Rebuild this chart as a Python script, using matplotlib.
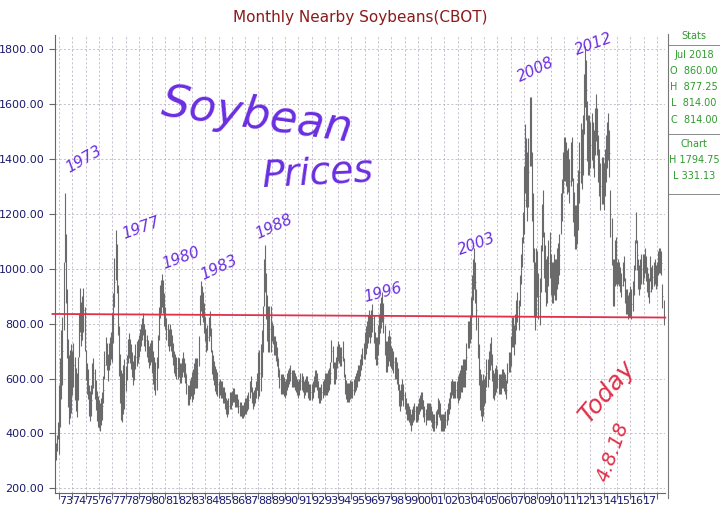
import matplotlib
matplotlib.use("Agg")
import matplotlib.pyplot as plt
import numpy as np

start_year = 1972
start_month = 7  # July 1972
prices = [
 340,345,350,335,365,410,
 450,550,650,700,900,1150,1000,800,620,560,580,600,
 620,650,600,560,540,600,760,850,800,820,850,780,
 650,600,580,520,500,520,600,620,580,540,500,480,
 470,460,480,500,560,650,700,680,640,680,700,720,
 750,820,950,1050,1000,850,700,600,540,530,560,580,
 600,640,700,720,700,680,650,620,640,680,690,700,
 720,740,760,780,800,760,740,720,700,680,690,700,
 680,640,620,600,620,700,800,880,900,920,900,850,
 820,780,760,740,760,740,720,690,660,650,640,640,
 640,620,620,640,660,640,620,580,540,540,560,570,
 570,580,600,620,620,620,700,850,900,880,860,820,
 780,740,750,780,800,740,660,640,620,600,590,580,
 560,570,560,560,540,540,520,500,490,500,520,520,
 530,540,540,520,520,520,500,490,490,480,480,490,
 500,500,510,520,560,580,540,520,530,540,560,590,
 610,620,640,690,780,950,1000,900,820,780,780,780,
 770,760,720,720,700,680,640,600,580,580,580,570,
 560,570,590,600,610,620,600,600,600,590,580,570,
 560,570,590,590,580,560,570,580,580,560,550,550,
 550,560,580,600,600,590,560,540,540,550,560,570,
 580,580,580,590,600,620,700,680,620,620,640,680,
 700,690,680,680,700,640,580,560,550,550,550,560,
 560,560,570,580,590,600,620,620,640,660,680,700,
 720,740,760,780,800,780,800,820,780,720,700,700,
 740,780,820,840,860,820,740,680,680,700,720,700,
 680,670,660,640,640,620,600,540,520,540,560,540,
 520,500,480,480,470,460,440,460,470,480,470,470,
 480,500,510,520,520,490,470,460,480,480,480,480,
 470,450,440,440,450,460,500,490,480,440,440,440,
 440,450,460,480,500,520,560,570,560,560,560,560,
 560,570,580,600,600,620,620,620,680,760,760,780,
 820,900,960,1000,950,850,750,650,560,540,520,540,
 550,560,620,620,650,680,700,640,580,570,590,600,
 600,580,580,580,600,600,590,580,560,620,660,660,
 700,770,770,740,780,830,860,830,920,1000,1060,1150,
 1250,1400,1350,1300,1350,1500,1500,1300,1150,950,900,950,
 980,900,880,1000,1150,1200,1050,1000,950,960,1020,1050,
 980,950,950,980,960,960,1000,1020,1050,1200,1250,1350,
 1400,1400,1380,1350,1360,1320,1380,1400,1250,1200,1150,1150,
 1200,1250,1350,1420,1400,1450,1600,1700,1650,1500,1450,1450,
 1450,1480,1450,1420,1500,1550,1500,1400,1350,1300,1320,1320,
 1300,1350,1400,1450,1480,1420,1200,1100,950,950,1020,1030,
 980,990,980,960,940,980,1000,920,880,880,860,870,
 880,870,900,960,1050,1150,1050,980,960,980,1000,1000,
 1010,1030,1000,960,940,920,1000,960,970,980,990,970,
 980,1020,1030,1030,1020,900,840,
]
# typical monthly range per calendar year 1972..2018
yearly_range = [60,250,160,110,100,180,90,80,120,80,70,110,90,60,50,60,170,70,60,60,60,80,70,60,
                100,110,80,60,60,60,60,100,150,100,70,110,250,170,150,160,220,170,170,90,110,90,90]
y_ticks = [200,400,600,800,1000,1200,1400,1600,1800]
year_labels = list(range(1973, 2018))

fig = plt.figure(figsize=(7.2,5.24), dpi=100)
ax = fig.add_axes([0.076,0.059,0.848,0.874])
n = len(prices)
t = np.array([start_year + (start_month-1+i)/12 for i in range(n)])
p = np.array(prices, float)
rng = np.array([yearly_range[int(x)-start_year] for x in t])
hi = p + rng/2; lo = p - rng/2
ax.vlines(t, lo, hi, color="#6a6a6a", lw=0.8)
ax.hlines(p, t, t+0.04, color="#6a6a6a", lw=0.6)

ax.set_xlim(1972.67, 2018.63)
ax.set_ylim(183, 1850)
ax.set_yticks(y_ticks)
ax.set_yticklabels([f"{v:.2f}" for v in y_ticks], color="#1a1a6e", fontsize=8)
ax.set_xticks([y for y in range(1973, 2019)])
ax.set_xticklabels([])
ax.set_xticks([y+0.5 for y in year_labels], minor=True)
ax.set_xticklabels([f"{y%100:02d}" for y in year_labels], minor=True, color="#1a1a6e", fontsize=8)
ax.tick_params(axis="x", which="minor", length=0, pad=2)
ax.tick_params(axis="x", which="major", length=4, color="#666")
ax.tick_params(axis="y", length=4, color="#666")
for y in range(1973, 2019):
    ax.axvline(y, color="#b0a8bc", lw=0.5, ls=(0,(3,3)), zorder=0)
for v in range(200, 1900, 200):
    ax.axhline(v, color="#b0a8bc", lw=0.5, ls=(0,(3,3)), zorder=0)
for s in ["top","right"]:
    ax.spines[s].set_visible(False)
for s in ["left","bottom"]:
    ax.spines[s].set_color("#666")

fig.text(0.5, 0.958, "Monthly Nearby Soybeans(CBOT)", ha="center", color="#8b1a1a", fontsize=11)

# stats panel
g = "#2e9a2e"
fig.add_artist(plt.Line2D([0.928,0.928],[0.05,0.935], color="#777", lw=0.8))
fig.add_artist(plt.Line2D([0.928,1],[0.915,0.915], color="#777", lw=0.6))
fig.add_artist(plt.Line2D([0.928,1],[0.745,0.745], color="#777", lw=0.6))
fig.add_artist(plt.Line2D([0.928,1],[0.63,0.63], color="#777", lw=0.6))
fig.text(0.964, 0.925, "Stats", color=g, fontsize=7, ha="center")
for i, s in enumerate(["Jul 2018","O  860.00","H  877.25","L  814.00","C  814.00"]):
    fig.text(0.964, 0.89-i*0.031, s, color=g, fontsize=7, ha="center")
for i, s in enumerate(["Chart","H 1794.75","L 331.13"]):
    fig.text(0.964, 0.72-i*0.031, s, color=g, fontsize=7, ha="center")

# annotations
pur = "#6a2ee0"
hand = dict(color=pur, fontstyle="italic", family="DejaVu Sans")
ax.plot([1972.5, 2018.63], [835, 822], color="#e0304a", lw=1.3, clip_on=False)
for x, y, s, r in [(1973.3,1350,"1973",30),(1977.6,1110,"1977",20),(1980.6,1000,"1980",20),
                   (1983.5,960,"1983",25),(1987.6,1110,"1988",25),(1995.8,880,"1996",15),
                   (2002.9,1050,"2003",20),(2007.3,1680,"2008",25),(2011.7,1780,"2012",20)]:
    ax.text(x, y, s, fontsize=11, rotation=r, **hand)
ax.text(1980.5, 1460, "Soybean", fontsize=32, rotation=-8, **hand)
ax.text(1988.2, 1300, "Prices", fontsize=27, rotation=3, **hand)
ax.text(2011.8, 440, "Today", fontsize=18, rotation=50, color="#e0304a", fontstyle="italic")
ax.text(2013.2, 230, "4.8.18", fontsize=14, rotation=70, color="#e0304a", fontstyle="italic")

fig.savefig("out.png", dpi=100)
